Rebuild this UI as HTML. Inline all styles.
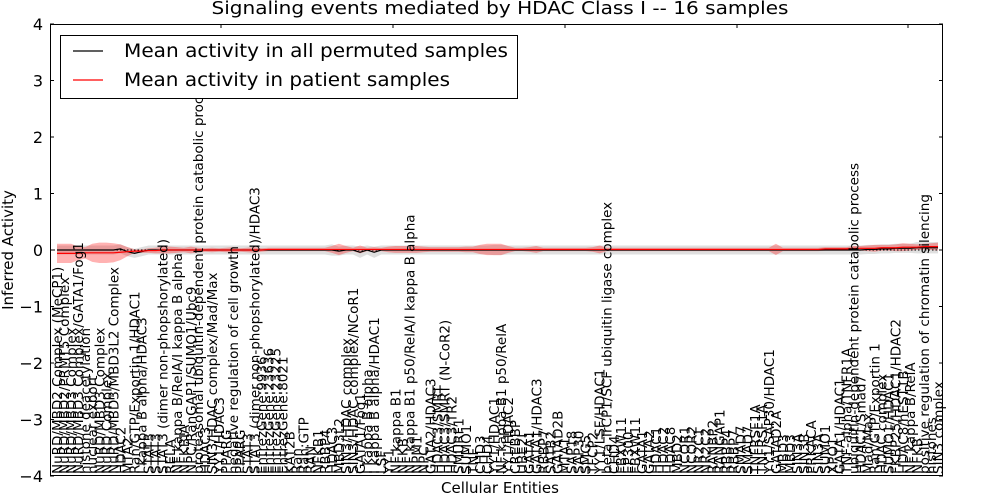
<!DOCTYPE html>
<html><head><meta charset="utf-8"><style>
body{margin:0;background:#fff;}
svg{display:block;font-family:"DejaVu Sans","Liberation Sans",sans-serif;}
</style></head><body>
<svg id="chart" width="1000" height="500" viewBox="0 0 1000 500" xmlns="http://www.w3.org/2000/svg">
<rect width="1000" height="500" fill="#fff"/>
<text x="500" y="14" text-anchor="middle" font-size="18" textLength="577" lengthAdjust="spacingAndGlyphs">Signaling events mediated by HDAC Class I -- 16 samples</text>
<g id="plot"></g>
<text transform="translate(13,250) rotate(-90)" text-anchor="middle" font-size="15">Inferred Activity</text>
<text x="500" y="493" text-anchor="middle" font-size="15">Cellular Entities</text>
<g>
<rect x="60.5" y="35.5" width="457" height="63" fill="#fff" stroke="#000" stroke-width="1"/>
<line x1="73" y1="51" x2="103" y2="51" stroke="#000" stroke-width="1.2"/>
<text x="124" y="57" font-size="19" textLength="384" lengthAdjust="spacingAndGlyphs">Mean activity in all permuted samples</text>
<line x1="73" y1="80" x2="103" y2="80" stroke="#f00" stroke-width="1.2"/>
<text x="124" y="86" font-size="19" textLength="326" lengthAdjust="spacingAndGlyphs">Mean activity in patient samples</text>
</g>
</svg>
<script>
const entities = ["NuRD/MBD2 Complex (MeCP1)","NuRD/MBD2/PRMT5 Complex","NuRD/MBD3 Complex","NuRD/MBD3 Complex/GATA1/Fog1","histone deacetylation","nuclear export","NuRD/MBD3 Complex","NuRD Complex","NuRD/MBD3/MBD3L2 Complex","HDAC2","MTA2","Ran/GTP/Exportin 1/HDAC1","I kappa B alpha/HDAC3","STAT3","STAT3","STAT3 (dimer non-phopshorylated)","RELA","NF kappa B/RelA/I kappa B alpha","NFKBIA","NPC/RanGAP1/SUMO1/Ubc9","proteasomal ubiquitin-dependent protein catabolic process","HDAC3","SIN3/HDAC complex/Mad/Max","YY1/HDAC3","PPARG","negative regulation of cell growth","PPARG","STAT3","STAT3 (dimer non-phopshorylated)/HDAC3","EntrezGene:9936","EntrezGene:23636","EntrezGene:23225","EntrezGene:8021","KAT2B","Ran","Ran:GTP","RAN","NFKB1","RBBP4","HDAC3","MBD3L2","SIN3/HDAC complex","SIN3/HDAC complex/NCoR1","GATA1/Fog1","I kappa B alpha","I kappa B alpha/HDAC1","LSF","YY1","NF kappa B1","NFKB","NF kappa B1 p50/RelA/I kappa B alpha","NPM1","NPC","GATA2/HDAC3","HDAC3/SMRT","HDAC3/SMRT (N-CoR2)","HDAC3/TR2","SMURF1","SUMO1","TNF","CHD3","CHD4","YY1/HDAC1","NF kappa B1 p50/RelA","YY1/HDAC2","CREBBP","UBE2I","GATA1","GATA1/HDAC3","RBBP7","SATB2","GATAD2B","MTA1","SAP18","SAP30","SMG5","TFCP2","YY1/LSF/HDAC1","beta TrCP1/SCF ubiquitin ligase complex","CHD4","FBXW11","EP300","FBXW11","GATA1","GATA2","HDAC1","HDAC2","HDAC8","MBD2","NCOR1","NCOR2","NR2C1","NR2C2","RANBP2","RANGAP1","RBBP4","RBBP7","SMAD7","SMAD7","TNFRSF1A","TNFRSF1A","YY1/SAP30/HDAC1","GATAD2A","MBD3","MBD3","SIN3A","SIN3B","PRKACA","SIN3A","SUMO1","XPO1","GATA1/HDAC1","TNF-alpha/TNFR1A","ubiquitin-dependent protein catabolic process","HDAC1/Smad7","Mad/Max","Ran/GTP/Exportin 1","HDAC complex","SUMO1/HDAC1","FKBP25/HDAC1/HDAC2","HDAC8/hEST1B","NF kappa B/RelA","NFKB","positive regulation of chromatin silencing","histones","SIN3 complex"];
const patientMean = [-0.06,-0.06,-0.06,-0.06,-0.05,-0.05,-0.05,-0.05,-0.05,-0.04,-0.03,-0.02,-0.02,-0.01,-0.01,0,0,0,0,0,0,0,0,0,0,0,0,0,0,0,0.01,0.01,0.01,0.01,0.01,0.01,0.01,0.01,0.01,0.01,0.01,0.01,0.01,0.01,0.01,0.01,0.01,0.01,0.01,0.01,0.01,0.01,0.01,0.01,0.01,0.01,0.01,0.01,0.01,0.01,0.01,0.01,0.01,0.01,0.01,0.01,0.01,0.01,0.01,0.01,0.01,0.01,0.01,0.01,0.01,0.01,0.01,0.01,0.01,0.01,0.01,0.01,0.01,0.01,0.01,0.01,0.01,0.01,0.01,0.01,0.01,0.01,0.01,0.01,0.01,0.01,0.01,0.01,0.01,0.01,0.01,0.01,0.01,0.01,0.01,0.01,0.01,0.01,0.01,0.02,0.02,0.02,0.02,0.03,0.03,0.03,0.03,0.04,0.04,0.04,0.05,0.05,0.05,0.06,0.06,0.06,0.07,0.07,0.07];
const patientSpread = [0.17,0.17,0.17,0.12,0.1,0.16,0.18,0.18,0.17,0.14,0.08,0.03,0.03,0.04,0.05,0.06,0.06,0.05,0.04,0.06,0.04,0.03,0.04,0.03,0.04,0.05,0.03,0.04,0.05,0.03,0.03,0.03,0.03,0.03,0.03,0.03,0.03,0.03,0.03,0.06,0.1,0.06,0.03,0.07,0.03,0.04,0.03,0.05,0.06,0.06,0.06,0.06,0.05,0.04,0.04,0.04,0.04,0.04,0.05,0.05,0.08,0.1,0.1,0.1,0.06,0.03,0.03,0.04,0.06,0.03,0.03,0.03,0.03,0.03,0.03,0.03,0.04,0.07,0.03,0.03,0.03,0.03,0.03,0.03,0.03,0.03,0.03,0.03,0.03,0.03,0.03,0.03,0.03,0.03,0.03,0.03,0.03,0.03,0.03,0.03,0.03,0.03,0.1,0.03,0.03,0.03,0.03,0.03,0.03,0.03,0.03,0.03,0.03,0.04,0.04,0.05,0.06,0.05,0.05,0.06,0.07,0.06,0.05,0.05,0.06,0.07,0.05,0.05,0.05];
const permMean = [0,0,0,0,0,0,0,0,0,0.02,-0.03,-0.06,-0.03,0,0,0,0,0,0,0,0,0,0,0,0,0,0,0,0,0,0,0,0,0,0,0,0,0,0,0,-0.02,0,0,-0.04,0,-0.04,0,0,0,0,0,0,0,0,0,0,0,0,0,0,0,0,0,0,0,0,0,0,0,0,0,0,0,0,0,0,0,0,0,0,0,0,0,0,0,0,0,0,0,0,0,0,0,0,0,0,0,0,0,0,0,0,0,0,0,0,0,0,0,0,0,0,0,0,0,0.01,0.01,0.02,0.02,0.03,0.03,0.03,0.04,0.04,0.04,0.04,0.05,0.05,0.05];
const permSpread = [0.08,0.08,0.08,0.08,0.08,0.08,0.08,0.08,0.08,0.08,0.08,0.08,0.08,0.08,0.08,0.08,0.08,0.08,0.08,0.08,0.08,0.08,0.08,0.08,0.08,0.08,0.08,0.08,0.08,0.08,0.08,0.08,0.08,0.08,0.08,0.08,0.08,0.08,0.08,0.1,0.08,0.08,0.08,0.1,0.08,0.1,0.08,0.08,0.08,0.08,0.08,0.08,0.08,0.08,0.08,0.08,0.08,0.08,0.08,0.08,0.08,0.08,0.09,0.09,0.08,0.08,0.08,0.08,0.08,0.08,0.08,0.08,0.08,0.08,0.08,0.08,0.08,0.08,0.08,0.08,0.08,0.08,0.08,0.08,0.08,0.08,0.08,0.08,0.08,0.08,0.08,0.08,0.08,0.08,0.08,0.08,0.08,0.08,0.08,0.08,0.08,0.08,0.08,0.08,0.08,0.08,0.08,0.08,0.08,0.08,0.08,0.08,0.08,0.08,0.08,0.08,0.08,0.08,0.08,0.08,0.08,0.08,0.1,0.1,0.1,0.1,0.1,0.1,0.1];
const yTicks = [-4,-3,-2,-1,0,1,2,3,4];

const NS="http://www.w3.org/2000/svg";
const L=50,R=943,T=24,B=476;
const n=Math.min(entities.length,patientMean.length,patientSpread.length,permMean.length,permSpread.length);
const X0=57,X1=938;
const xs=i=>X0+i*(X1-X0)/(entities.length-1);
const ys=v=>T+(4-v)/8*(B-T);
const g=document.getElementById('plot');
function mk(tag,attrs,parent){const e=document.createElementNS(NS,tag);for(const k in attrs)e.setAttribute(k,attrs[k]);(parent||g).appendChild(e);return e;}
function band(mean,spread,fill,name){
  let up=[],dn=[];
  for(let i=0;i<n;i++){up.push(xs(i)+','+ys(mean[i]+spread[i]));dn.unshift(xs(i)+','+ys(mean[i]-spread[i]));}
  const p=mk('polygon',{points:up.concat(dn).join(' '),fill:fill});
  
  
}
function line(mean,stroke,name,w){
  const pts=mean.slice(0,n).map((v,i)=>xs(i)+','+ys(v)).join(' ');
  const p=mk('polyline',{points:pts,fill:'none',stroke:stroke,'stroke-width':w});
  
  
}
band(permMean,permSpread,'rgba(150,150,150,0.3)','permuted-band');
band(patientMean,patientSpread,'rgba(255,0,0,0.3)','patient-band');
const zl=mk('line',{x1:L,x2:R,y1:ys(0),y2:ys(0),stroke:'#000','stroke-dasharray':'1.5,2','stroke-width':1});


line(permMean,'#000','permuted-mean-line',1.2);
line(patientMean,'#f00','patient-mean-line',1.2);
entities.forEach((lab,i)=>{
  const t=mk('text',{transform:`translate(${xs(i)+5},474) rotate(-90)`,'font-size':'13.5'});
  t.textContent=lab;
  
  
});
const fr=mk('rect',{x:L+0.5,y:T+0.5,width:R-L-1,height:B-T-1,fill:'none',stroke:'#000','stroke-width':1});


yTicks.forEach(v=>{
  const y=ys(v);
  mk('line',{x1:L,x2:L+4,y1:y,y2:y,stroke:'#000'});
  mk('line',{x1:R-4,x2:R,y1:y,y2:y,stroke:'#000'});
  const t=mk('text',{x:L-7,y:y+6,'text-anchor':'end','font-size':'16'});
  t.textContent=v<0?'\u2212'+Math.abs(v):String(v);
  
  
});
[221,393,565,737,908].forEach(x=>{
  mk('line',{x1:x,x2:x,y1:T,y2:T+4,stroke:'#000'});
});
</script>
</body></html>
